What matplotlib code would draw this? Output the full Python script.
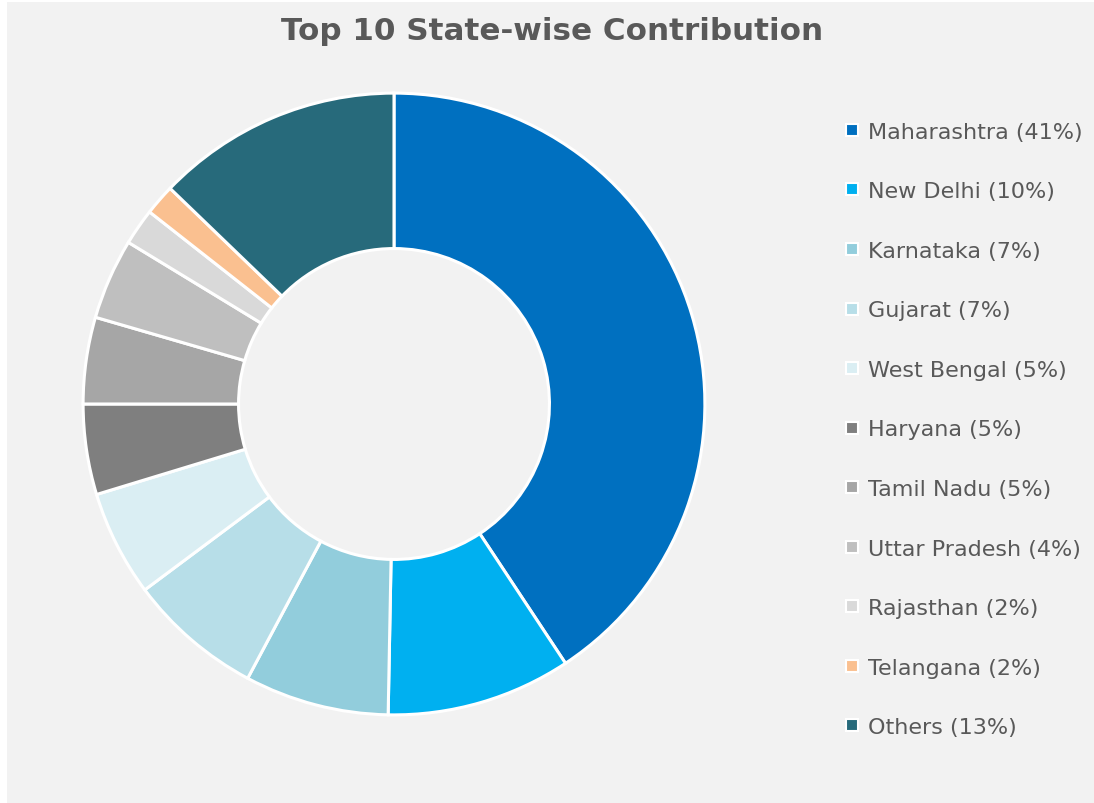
import matplotlib
matplotlib.use("Agg")
import matplotlib.pyplot as plt
from matplotlib.lines import Line2D
from matplotlib.patches import Rectangle

states = ['Maharashtra', 'New Delhi', 'Karnataka', 'Gujarat', 'West Bengal', 'Haryana',
          'Tamil Nadu', 'Uttar Pradesh', 'Rajasthan', 'Telangana', 'Others']
share = [40.7, 9.6, 7.5, 7.0, 5.5, 4.7, 4.5, 4.2, 1.9, 1.6, 12.8]
pct_labels = ['41%', '10%', '7%', '7%', '5%', '5%', '5%', '4%', '2%', '2%', '13%']
colors = ['#0070C0', '#00B0F0', '#92CDDC', '#B7DEE8', '#DAEEF3', '#7F7F7F',
          '#A6A6A6', '#BFBFBF', '#D9D9D9', '#FAC090', '#276A7B']

txt_col = '#595959'
W, H = 1094, 804
fig = plt.figure(figsize=(W / 100, H / 100), dpi=100, facecolor='white')
# light grey chart area
fig.patches.append(Rectangle((7 / W, 0), 1, 1 - 3 / H, transform=fig.transFigure,
                             facecolor='#F2F2F2', edgecolor='none', zorder=-1))

cx, cy, r = 394, 405, 314
ax = fig.add_axes([(cx - r) / W, (H - cy - r) / H, 2 * r / W, 2 * r / H], zorder=2)
ax.set_facecolor('none')
wedges, _ = ax.pie(share, colors=colors, startangle=90, counterclock=False, radius=1,
                   wedgeprops=dict(width=0.5, edgecolor='white', linewidth=2.2))
ax.set_xlim(-1.01, 1.01)
ax.set_ylim(-1.01, 1.01)
ax.axis('off')

fig.text(552 / W, 1 - 31 / H, 'Top 10 State-wise Contribution', ha='center', va='center',
         fontsize=22.3, fontweight='bold', color=txt_col)

handles = [Line2D([], [], marker='s', linestyle='', markersize=8, markerfacecolor=c,
                  markeredgecolor='white', markeredgewidth=1.5) for c in colors]
labels = [f'{s} ({p})' for s, p in zip(states, pct_labels)]
leg = fig.legend(handles, labels, loc='center left', bbox_to_anchor=(835 / W, 1 - 430.5 / H),
                 frameon=False, fontsize=16, labelcolor=txt_col, labelspacing=1.78,
                 handlelength=0.7, handletextpad=0.4, borderaxespad=0)
leg.set_zorder(3)

fig.savefig('out.png', dpi=100, facecolor=fig.get_facecolor())
